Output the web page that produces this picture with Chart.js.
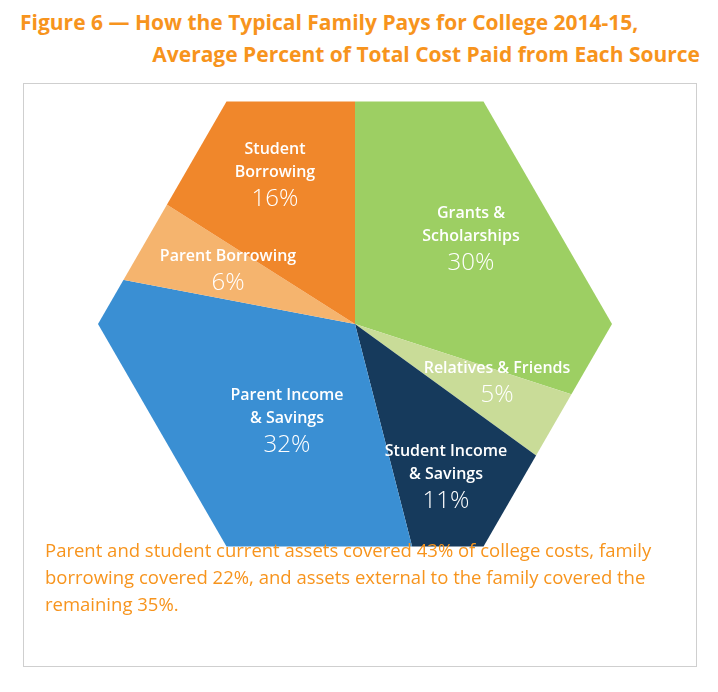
<!DOCTYPE html>
<html>
<head>
<meta charset="utf-8">
<script src="https://cdn.jsdelivr.net/npm/chart.js@4"></script>
<style>
  body { margin: 0; background: #fff; font-family: 'Open Sans', 'Noto Sans', sans-serif; }
  #wrap { position: relative; width: 718px; height: 692px; }
  .title { position: absolute; color: #f7941d; font-weight: 700; font-size: 21px; white-space: nowrap; }
  #frame { position: absolute; left: 23px; top: 83px; width: 672px; height: 582px; border: 1px solid #cfcfcf; }
  #caption { position: absolute; left: 45px; top: 536px; width: 650px; color: #f7941d; font-size: 18.5px; line-height: 27px; }
  canvas { position: absolute; left: 0; top: 0; }
</style>
</head>
<body>
<div id="wrap">
  <div class="title" style="left:20px;top:8px;">Figure 6 — How the Typical Family Pays for College 2014-15,</div>
  <div class="title" style="right:18px;top:40px;">Average Percent of Total Cost Paid from Each Source</div>
  <div id="frame"></div>
  <canvas id="pie" width="718" height="692"></canvas>
  <div id="caption">Parent and student current assets covered 43% of college costs, family borrowing covered 22%, and assets external to the family covered the remaining 35%.</div>
</div>
<script>
// Data
const sources = ['Grants & Scholarships', 'Relatives & Friends', 'Student Income & Savings', 'Parent Income & Savings', 'Parent Borrowing', 'Student Borrowing'];
const shares = [30, 5, 11, 32, 6, 16];
const labelLines = [['Grants &', 'Scholarships'], ['Relatives & Friends'], ['Student Income', '& Savings'], ['Parent Income', '& Savings'], ['Parent Borrowing'], ['Student', 'Borrowing']];
const colors = ['#9dcf63', '#c9dc98', '#163a5c', '#3a8fd3', '#f5b46e', '#f0872b'];

// where each label block sits (centre x, top y)
const labelLayout = [[471, 205], [497, 360], [446, 443], [287, 387], [228, 248], [275, 141]];

const CX = 355, CY = 324, HEX_R = 257;

// clip the pie to a flat-topped hexagon
const hexClip = {
  id: 'hexClip',
  beforeDatasetsDraw(chart) {
    const ctx = chart.ctx;
    ctx.save();
    ctx.beginPath();
    for (let i = 0; i < 6; i++) {
      const a = Math.PI / 3 * i;
      const x = CX + HEX_R * Math.cos(a);
      const y = CY + HEX_R * Math.sin(a);
      i === 0 ? ctx.moveTo(x, y) : ctx.lineTo(x, y);
    }
    ctx.closePath();
    ctx.clip();
  },
  afterDatasetsDraw(chart) {
    const ctx = chart.ctx;
    ctx.restore();
    ctx.save();
    ctx.fillStyle = '#fff';
    ctx.textAlign = 'center';
    ctx.textBaseline = 'top';
    shares.forEach((v, i) => {
      const [x, y] = labelLayout[i];
      let yy = y;
      ctx.font = '600 16px "Open Sans", sans-serif';
      labelLines[i].forEach(line => { ctx.fillText(line, x, yy); yy += 23; });
      ctx.font = '300 24px "Open Sans", sans-serif';
      ctx.fillText(v + '%', x, yy);
    });
    ctx.restore();
  }
};

new Chart(document.getElementById('pie'), {
  type: 'pie',
  data: {
    labels: sources,
    datasets: [{ data: shares, backgroundColor: colors, borderWidth: 0 }]
  },
  options: {
    responsive: false,
    animation: false,
    radius: 300,
    layout: { padding: { left: 0, right: 8, top: 0, bottom: 44 } },
    plugins: { legend: { display: false }, tooltip: { enabled: false } }
  },
  plugins: [hexClip]
});
</script>
</body>
</html>
